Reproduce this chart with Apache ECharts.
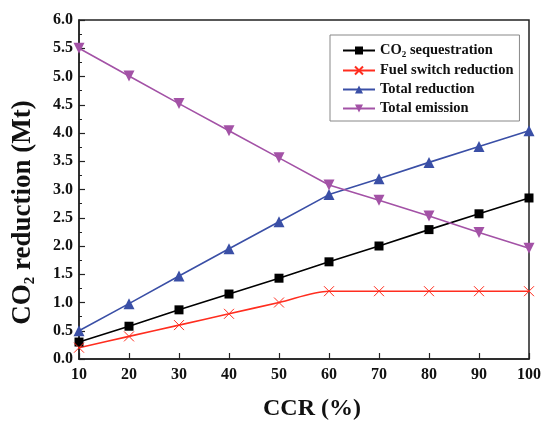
<!DOCTYPE html>
<html>
<head>
<meta charset="UTF-8">
<title>CO2 reduction vs CCR</title>
<script src="https://cdn.jsdelivr.net/npm/echarts@6/dist/echarts.min.js"></script>
<style>
  html, body { margin: 0; padding: 0; background: #fff; }
  #chart { width: 544px; height: 422px; }
</style>
</head>
<body>
<div id="chart"></div>
<script>
// data
const ccr = [10, 20, 30, 40, 50, 60, 70, 80, 90, 100];
const co2Seq = [0.30, 0.58, 0.87, 1.15, 1.43, 1.72, 2.00, 2.29, 2.57, 2.85];
const fuelSwitch = [0.20, 0.40, 0.60, 0.80, 1.00, 1.20, 1.20, 1.20, 1.20, 1.20];
const totalReduction = [0.50, 0.98, 1.47, 1.95, 2.43, 2.91, 3.19, 3.48, 3.76, 4.04];
const totalEmission = [5.50, 5.01, 4.52, 4.04, 3.56, 3.08, 2.81, 2.53, 2.24, 1.96];

const font = 'Liberation Serif, Times New Roman, serif';

function pairs(ys) { return ccr.map((x, i) => [x, ys[i]]); }

const chart = echarts.init(document.getElementById('chart'));

const mkSeries = (name, data, color, symbol, size, extra) => Object.assign({
  name: name,
  type: 'line',
  data: pairs(data),
  symbol: symbol,
  symbolSize: size,
  lineStyle: { color: color, width: 1.6 },
  itemStyle: { color: color },
  emphasis: { disabled: true },
  z: 3
}, extra || {});

chart.setOption({
  animation: false,
  grid: {
    left: 79, right: 15, top: 20, bottom: 63,
    outerBoundsMode: 'none', containLabel: false,
    show: true, borderColor: '#222', borderWidth: 1.5
  },
  legend: {
    left: 330, top: 35,
    orient: 'vertical',
    backgroundColor: '#fff',
    borderColor: '#888', borderWidth: 1,
    padding: [8, 6, 5, 12],
    itemGap: 4,
    itemWidth: 32, itemHeight: 10,
    textStyle: {
      fontFamily: font, fontWeight: 'bold', fontSize: 14.5, color: '#111',
      rich: {
        b: { fontFamily: font, fontWeight: 'bold', fontSize: 14.5, color: '#111' },
        s: { fontFamily: font, fontWeight: 'bold', fontSize: 9, color: '#111', padding: [8, 0, 0, 0] }
      }
    },
    formatter: function (n) {
      if (n === 'CO2 sequestration') return '{b|CO}{s|2}{b| sequestration}';
      return n;
    },
    data: ['CO2 sequestration', 'Fuel switch reduction', 'Total reduction', 'Total emission']
  },
  xAxis: {
    type: 'value', min: 10, max: 100, interval: 10,
    name: 'CCR (%)', nameLocation: 'middle', nameGap: 38,
    nameTextStyle: { fontFamily: font, fontWeight: 'bold', fontSize: 24, color: '#111', padding: [0, 0, 0, 16] },
    axisLine: { lineStyle: { color: '#222', width: 1.5 } },
    axisTick: { inside: true, length: 6, lineStyle: { color: '#222', width: 1.2 } },
    axisLabel: { fontFamily: font, fontWeight: 'bold', fontSize: 16, color: '#111', margin: 8 },
    splitLine: { show: false }
  },
  yAxis: {
    type: 'value', min: 0, max: 6, interval: 0.5,
    name: '{b|CO}{s|2}{b| reduction (Mt)}', nameLocation: 'middle', nameGap: 41, nameRotate: 90,
    nameTextStyle: {
      fontFamily: font, fontWeight: 'bold', fontSize: 27, color: '#111',
      padding: [0, 46, 0, 0],
      rich: {
        b: { fontFamily: font, fontWeight: 'bold', fontSize: 27, color: '#111' },
        s: { fontFamily: font, fontWeight: 'bold', fontSize: 15, color: '#111', padding: [14, 0, 0, 0] }
      }
    },
    axisLine: { lineStyle: { color: '#222', width: 1.5 } },
    axisTick: { inside: true, length: 6, lineStyle: { color: '#222', width: 1.2 } },
    minorTick: { show: true, splitNumber: 2, length: 3, lineStyle: { color: '#222', width: 1 } },
    axisLabel: {
      fontFamily: font, fontWeight: 'bold', fontSize: 16, color: '#111', margin: 6,
      formatter: v => v.toFixed(1)
    },
    splitLine: { show: false }
  },
  series: [
    mkSeries('CO2 sequestration', co2Seq, '#000000', 'rect', 9),
    mkSeries('Fuel switch reduction', fuelSwitch, '#ff2d1f', 'path://M0,0L10,10M10,0L0,10', 10, {
      smooth: 0.3,
      itemStyle: { color: '#ff2d1f', borderColor: '#ff2d1f', borderWidth: 1 }
    }),
    mkSeries('Total reduction', totalReduction, '#3a4fa6', 'triangle', 11),
    mkSeries('Total emission', totalEmission, '#a352a6', 'path://M0,0L10,0L5,9Z', 11)
  ]
});
</script>
</body>
</html>
